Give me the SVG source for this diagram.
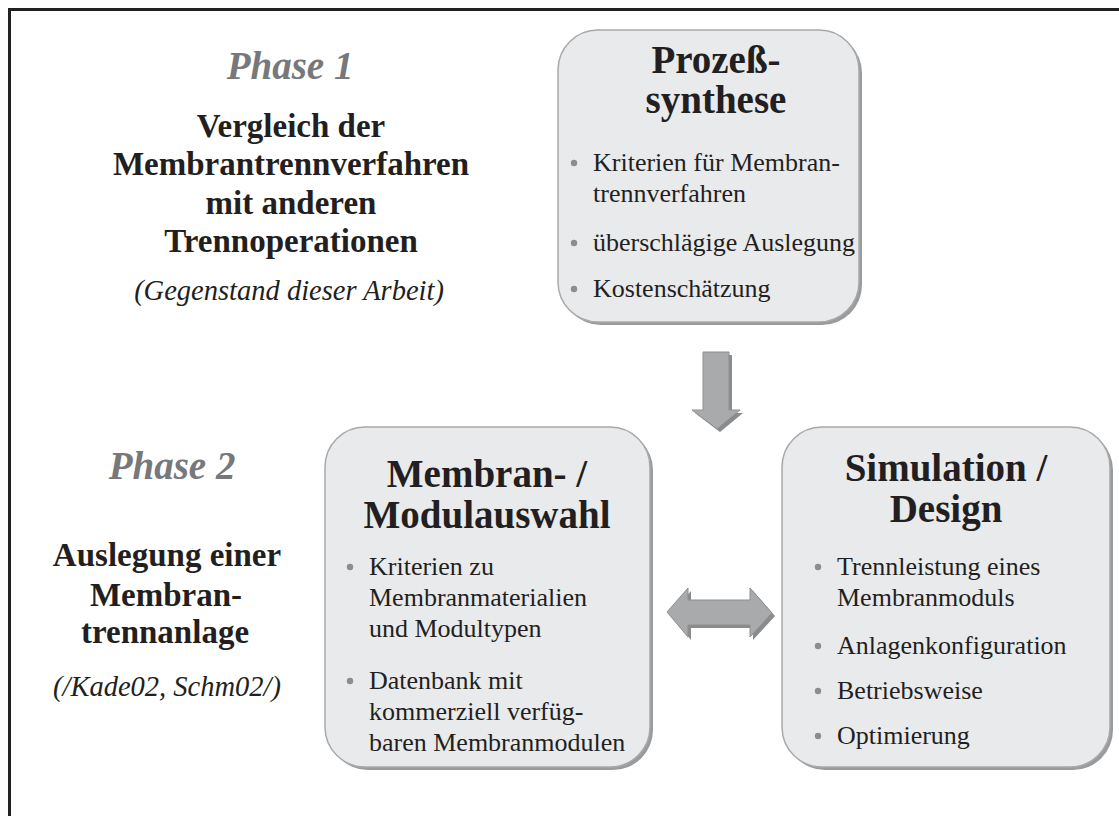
<svg xmlns="http://www.w3.org/2000/svg" width="1119" height="816" viewBox="0 0 1119 816">
<defs>
<style>
.frame{fill:none;stroke:#231f20;stroke-width:3}
.shadow{fill:#9a9b9d}
.box{fill:#e9eaec;stroke:#a8a9ab;stroke-width:1.5}
.ttl{font-family:"Liberation Serif",serif;font-weight:bold;font-size:39px;fill:#231f20;text-anchor:middle}
.body{font-family:"Liberation Serif",serif;font-size:26px;fill:#231f20}
.bul{fill:#8c8d8f}
.ph{font-family:"Liberation Serif",serif;font-weight:bold;font-style:italic;font-size:39px;fill:#77787b;text-anchor:middle}
.lb{font-family:"Liberation Serif",serif;font-weight:bold;font-size:33px;fill:#231f20;text-anchor:middle}
.li{font-family:"Liberation Serif",serif;font-style:italic;font-size:28.5px;fill:#231f20;text-anchor:middle}
.arr{fill:#a9aaac;stroke:#8e8f91;stroke-width:1}
.arrs{fill:#8a8b8d}
</style>
</defs>
<rect width="1119" height="816" fill="#ffffff"/>
<rect class="frame" x="9.5" y="9.5" width="1130" height="830"/>

<g id="phase1">
<text class="ph" x="290" y="79">Phase 1</text>
<text class="lb" x="291" y="137">Vergleich der</text>
<text class="lb" x="291" y="175">Membrantrennverfahren</text>
<text class="lb" x="291" y="214">mit anderen</text>
<text class="lb" x="291" y="252">Trennoperationen</text>
<text class="li" x="289" y="300">(Gegenstand dieser Arbeit)</text>
</g>

<g id="phase2">
<text class="ph" x="172" y="479">Phase 2</text>
<text class="lb" x="167" y="566">Auslegung einer</text>
<text class="lb" x="166" y="606">Membran-</text>
<text class="lb" x="165" y="643">trennanlage</text>
<text class="li" x="167" y="696">(/Kade02, Schm02/)</text>
</g>

<g id="prozesssynthese">
<rect class="shadow" x="561" y="33" width="301" height="292" rx="40"/>
<rect class="box" x="558" y="30" width="301" height="292" rx="40"/>
<text class="ttl" x="716" y="73">Prozeß-</text>
<text class="ttl" x="716" y="113">synthese</text>
<circle class="bul" cx="574" cy="163" r="3.2"/>
<text class="body" x="593" y="171">Kriterien für Membran-</text>
<text class="body" x="593" y="202">trennverfahren</text>
<circle class="bul" cx="574" cy="243" r="3.2"/>
<text class="body" x="593" y="251">überschlägige Auslegung</text>
<circle class="bul" cx="574" cy="289" r="3.2"/>
<text class="body" x="593" y="297">Kostenschätzung</text>
</g>

<g id="modulauswahl">
<rect class="shadow" x="328" y="430" width="325" height="340" rx="40"/>
<rect class="box" x="325" y="427" width="325" height="340" rx="40"/>
<text class="ttl" x="487" y="487">Membran- /</text>
<text class="ttl" x="487" y="528">Modulauswahl</text>
<circle class="bul" cx="350" cy="567" r="3.2"/>
<text class="body" x="369" y="575">Kriterien zu</text>
<text class="body" x="369" y="606">Membranmaterialien</text>
<text class="body" x="369" y="637">und Modultypen</text>
<circle class="bul" cx="350" cy="681" r="3.2"/>
<text class="body" x="369" y="689">Datenbank mit</text>
<text class="body" x="369" y="720">kommerziell verfüg-</text>
<text class="body" x="369" y="751">baren Membranmodulen</text>
</g>

<g id="simulation">
<rect class="shadow" x="785" y="430" width="328" height="340" rx="40"/>
<rect class="box" x="782" y="427" width="328" height="340" rx="40"/>
<text class="ttl" x="946" y="481">Simulation /</text>
<text class="ttl" x="946" y="522">Design</text>
<circle class="bul" cx="818" cy="567" r="3.2"/>
<text class="body" x="837" y="575">Trennleistung eines</text>
<text class="body" x="837" y="606">Membranmoduls</text>
<circle class="bul" cx="818" cy="646" r="3.2"/>
<text class="body" x="837" y="654">Anlagenkonfiguration</text>
<circle class="bul" cx="818" cy="691" r="3.2"/>
<text class="body" x="837" y="699">Betriebsweise</text>
<circle class="bul" cx="818" cy="736" r="3.2"/>
<text class="body" x="837" y="744">Optimierung</text>
</g>

<g id="connectors">
<polygon class="arrs" points="706,355 732,355 732,413 743,413 720,432 695,413 706,413"/>
<polygon class="arr" points="703,352 729,352 729,410 740,410 717,429 692,410 703,410"/>
<polygon class="arrs" points="670,615 691,591 691,603 753,603 753,591 775,616 753,640 753,628 691,628 691,640"/>
<polygon class="arr" points="667,612 688,588 688,600 750,600 750,588 772,613 750,637 750,625 688,625 688,637"/>
</g>
</svg>
